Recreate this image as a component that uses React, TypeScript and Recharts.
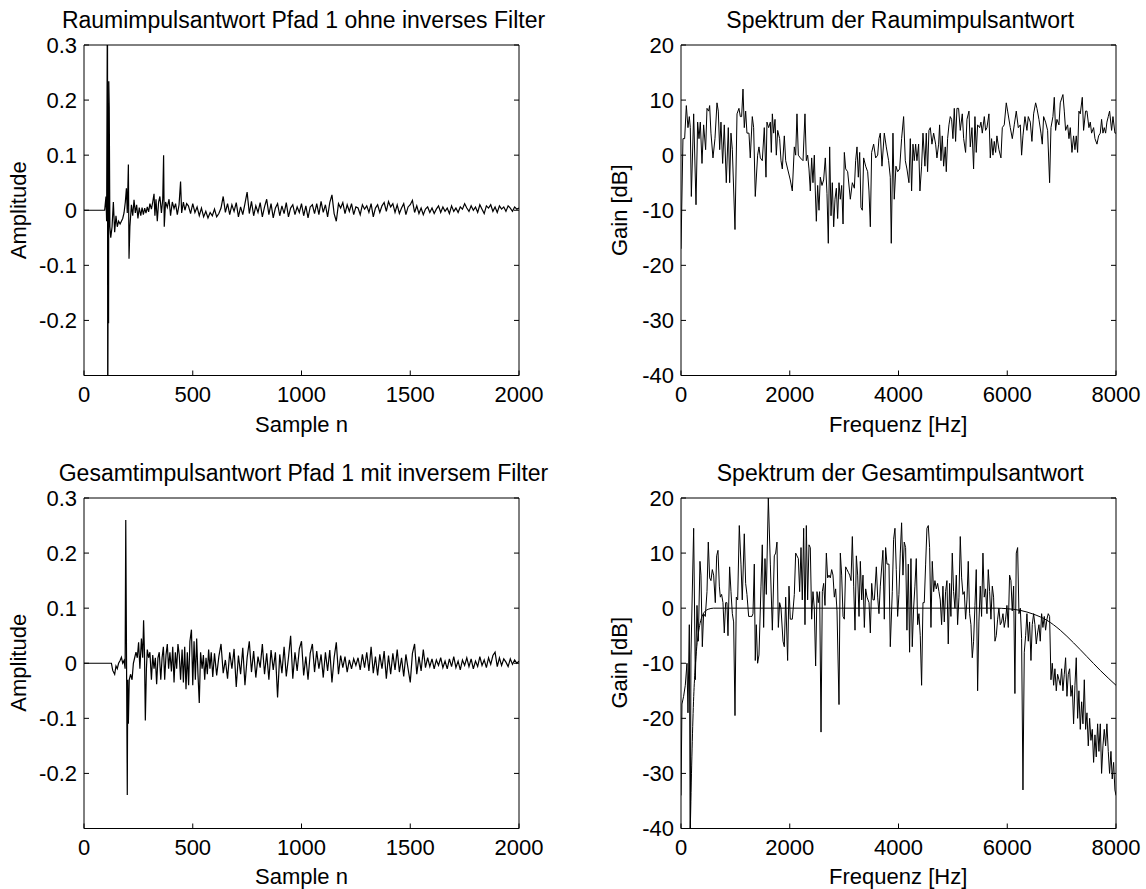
import { Line, LineChart, XAxis, YAxis } from 'recharts';

const FONT = '"Liberation Sans", Arial, Helvetica, sans-serif';

const sampleTicks = [0, 500, 1000, 1500, 2000];
const amplitudeTicks = [-0.2, -0.1, 0, 0.1, 0.2, 0.3];
const freqTicks = [0, 2000, 4000, 6000, 8000];
const gainTicks = [-40, -30, -20, -10, 0, 10, 20];

// room impulse response, onset region read as [sample, amplitude]
const roomHead: [number, number][] = [
  [0, 0], [95, 0], [101, 0.025], [104, -0.02], [108, 0.45], [109, -0.45], [112, 0.05], [113, -0.205],
  [114, 0.234], [116, 0.188], [119, -0.03], [123, -0.05], [129, -0.03], [135, 0.015], [141, -0.04],
  [147, -0.01], [153, -0.03], [159, -0.02], [166, -0.025], [172, -0.02], [178, -0.015], [184, -0.005],
  [190, 0.015], [195, 0.04], [199, -0.005], [204, 0.083], [207, -0.088], [211, -0.03], [218, 0.01],
  [224, -0.01], [230, 0.019], [236, -0.005], [242, 0.01], [248, -0.015], [254, 0.005], [261, -0.01],
  [267, 0.005], [273, -0.008], [279, 0.004], [285, -0.005], [291, 0.006], [297, -0.003], [303, 0.012],
  [310, 0.002], [316, 0.015], [322, 0.03], [326, -0.01], [331, 0.02], [337, -0.02], [343, 0.015],
  [349, 0.025], [356, -0.005], [362, 0.02], [366, 0.1], [369, -0.03], [375, 0.015], [383, 0.005],
  [391, 0.02], [398, -0.01], [406, 0.015], [414, 0.003], [421, 0.012], [429, -0.008], [437, 0.01],
  [444, 0.052], [449, -0.005], [457, 0.015], [464, 0], [472, 0.012],
];
const roomTailStart = 480;
const tailStep = 10;
const roomTail = [
  0.008, -0.006, 0.012, -0.004, 0.006, -0.01, 0.004, -0.012, -0.002, -0.014, -0.004, -0.01, 0.002, -0.012,
  -0.006, 0.004, 0.025, -0.004, 0.012, -0.008, 0.01, -0.002, 0.014, -0.012, 0.006, -0.008, 0.012, 0.033,
  -0.006, 0.016, -0.01, 0.008, -0.004, 0.014, -0.012, 0.006, 0.02, -0.008, 0.012, -0.014, 0.004, 0.012,
  -0.01, 0.008, -0.006, 0.014, -0.012, 0.004, 0.01, -0.008, 0.006, -0.004, 0.012, -0.01, 0.008, -0.014,
  0.006, 0.01, -0.006, 0.012, -0.008, 0.016, -0.004, 0.01, -0.012, 0.014, 0.028, -0.006, -0.02, 0.012,
  0.004, 0.014, -0.006, 0.01, -0.002, 0.012, -0.008, 0.006, 0.004, -0.008, 0.01, 0.002, 0.008, -0.004,
  0.012, -0.012, 0.004, 0.01, -0.004, 0.008, 0.014, -0.002, 0.016, 0.006, 0.012, -0.004, 0.01, -0.006,
  0.004, 0.012, -0.008, 0.006, 0.01, 0.018, -0.004, 0.008, -0.006, 0.004, -0.008, 0.002, 0.006, -0.004,
  0.004, -0.006, 0.002, 0.008, -0.004, 0.006, -0.002, 0.004, -0.006, 0.008, -0.002, 0.004, -0.004, 0.006,
  0.002, 0.012, 0.004, -0.002, 0.008, 0, 0.006, -0.004, 0.01, 0.002, -0.006, 0.008, 0.004, 0.01, -0.002,
  0.006, -0.004, 0.008, 0.002, 0.006, -0.002, 0.008, 0.004, -0.002, 0.006, 0.002, 0.004,
];

// spectrum of the room impulse response, [Hz, dB]
const roomSpectrum: [number, number][] = [
  [0, -17], [36, 3], [67, 3], [98, 9], [128, 5], [153, 7], [171, 5], [190, -7.5], [233, 7.5], [276, -9],
  [306, 6], [331, 3], [355, 6], [386, -1.5], [416, 5.5], [453, 1], [478, 8.5], [508, 8], [527, 9], [551, 4],
  [588, -0.5], [625, 3], [662, 9.5], [686, 8], [711, 1], [735, 6], [766, -1.5], [796, 5.5], [833, -5],
  [870, 5], [895, -5], [919, 4], [944, 1], [993, -13.5], [1030, 7.5], [1066, 8.5], [1091, 7], [1115, 7],
  [1140, 12], [1164, 5], [1189, 8], [1213, 4], [1250, 4], [1274, -0.5], [1311, 7], [1336, 5], [1366, -7.5],
  [1409, 0], [1434, 1.5], [1459, -0.5], [1495, -1], [1532, 5], [1563, -4], [1581, 6], [1612, 5], [1643, 6],
  [1661, 0.5], [1680, 7.5], [1704, 4], [1729, 6.5], [1753, 0], [1778, 4.5], [1814, 3], [1839, -1],
  [1863, -2.5], [1900, 3.5], [1925, -1], [1961, -2.5], [2010, -4.5], [2047, -6.5], [2084, 1.5], [2109, 0],
  [2133, 7.5], [2158, 0], [2195, -0.5], [2244, -1], [2280, 7.5], [2305, -1], [2329, 0], [2354, -2.5],
  [2378, -6.5], [2403, -0.5], [2427, -5], [2452, 0], [2470, -6.5], [2489, -12], [2513, -5.5], [2538, -10],
  [2562, -4], [2593, -5.5], [2623, -4.5], [2654, -0.5], [2685, -7], [2709, -16], [2734, 1.5], [2759, -11],
  [2783, -5], [2808, -13], [2832, -8], [2857, -6], [2881, -11.5], [2906, -5], [2930, -8], [2955, -5.5],
  [2980, -12.5], [3004, 0.5], [3029, -2.5], [3065, -3], [3114, -8], [3151, -5], [3188, -6], [3212, -1],
  [3237, 1.5], [3261, -4], [3286, 0.5], [3310, -9.5], [3335, -10], [3359, -0.5], [3396, -2], [3433, -3],
  [3457, -6.5], [3482, -13], [3506, 0.5], [3543, 2], [3580, -0.5], [3617, 0], [3641, 3],
  [3665, 4], [3696, -2], [3739, 4], [3775, 1.5], [3818, -1], [3849, -4], [3867, -16], [3898, 4], [3922, -8],
  [3953, -2], [3984, -3], [4021, -2.5], [4057, 3], [4094, 7], [4125, -1], [4155, -2.5], [4192, -5],
  [4217, 3], [4241, -6.5], [4266, 2], [4290, -1], [4315, 2], [4339, -1], [4370, 2], [4394, -6.5],
  [4425, -2], [4450, 4], [4486, -2], [4511, 4], [4535, -3], [4560, 4.5], [4585, 5], [4615, 2], [4646, 4],
  [4683, 2], [4707, -0.5], [4738, 2], [4756, 5.5], [4781, -1], [4805, 3.5], [4830, -2], [4860, 1.5],
  [4879, -3], [4903, 3], [4928, 5.5], [4952, 7], [4977, 6.5], [5001, 3], [5026, 8.5], [5050, 2.5],
  [5075, 8.5], [5105, 8.5], [5136, 4.5], [5173, 7.5], [5198, 3], [5234, 0.5], [5259, 6.5], [5296, 8],
  [5320, 1.5], [5351, 5], [5381, -2.5], [5406, 7], [5430, 0.5], [5455, 5.5], [5492, 5], [5516, 6],
  [5541, 4], [5578, 7], [5602, 4.5], [5627, 5], [5663, 7.5], [5688, -0.5], [5712, 3], [5737, 0],
  [5761, 2.5], [5786, 0.5], [5810, 3.5], [5847, 1], [5884, -0.5], [5909, 5], [5945, 5.5], [5982, 9.5],
  [6007, 8], [6056, 5], [6093, 3], [6129, 5.5], [6166, 8], [6203, 5], [6240, 5.5], [6264, 0], [6289, 3.5],
  [6325, 7], [6362, 4.5], [6387, 7], [6424, 6], [6454, 2.5], [6485, 7.5], [6522, 9.5], [6546, 8.5],
  [6583, 6.5], [6620, 4], [6644, 2], [6669, 7], [6705, 6], [6742, 4.5], [6779, -5], [6804, 5], [6840, 7],
  [6865, 10.5], [6889, 4.5], [6914, 6.5], [6951, 5.5], [6975, 9.5], [7024, 11], [7049, 8], [7073, 4.5],
  [7110, 5.5], [7135, 3], [7159, 5], [7190, 0.5], [7220, 3.5], [7245, 1], [7269, 3.5], [7294, 0.5],
  [7318, 8], [7343, 7.5], [7380, 10.5], [7404, 4.5], [7441, 8], [7466, 8], [7502, 5], [7527, 6],
  [7551, 4], [7588, 5], [7613, 3], [7650, 2], [7680, 3.5], [7711, 4], [7735, 6.5], [7760, 4], [7784, 5],
  [7809, 4], [7833, 6], [7858, 7], [7882, 8], [7919, 4.5], [7944, 7], [7981, 4], [8000, 4],
];

// total impulse response with inverse filter, onset region as [sample, amplitude]
const totalHead: [number, number][] = [
  [0, 0], [126, 0], [132, -0.013], [141, -0.02], [147, -0.005], [153, -0.01], [159, 0], [166, 0.005],
  [172, 0.011], [178, 0], [184, 0.005], [189, -0.01], [192, 0.26], [199, -0.239], [201, -0.03],
  [204, -0.11], [208, -0.03], [214, -0.02], [221, -0.03], [227, 0], [233, 0.01], [239, 0.02], [245, 0.01],
  [251, 0.038], [257, -0.01], [264, 0.045], [270, 0.01], [274, 0.078], [278, 0.02], [282, -0.104],
  [287, -0.01], [291, 0.025], [297, 0.01], [303, 0.02], [310, -0.03], [316, 0.015], [322, -0.01],
  [328, 0.01], [334, -0.038], [340, 0.01], [346, 0.02], [353, -0.03], [359, 0.01], [365, 0.03],
  [371, -0.03], [377, 0.015], [383, 0.035], [389, -0.01], [395, 0.02], [402, -0.015], [408, 0.03],
  [414, -0.035], [420, 0.02], [426, -0.01], [432, 0.035], [438, 0.015], [444, -0.03], [451, 0.025],
  [457, -0.035], [463, 0.03], [469, -0.047], [475, 0.02], [481, -0.04], [487, 0.04], [494, 0.061],
  [500, -0.04], [506, 0.04], [512, -0.03], [518, 0.045], [524, -0.02], [530, -0.072], [536, 0.02],
  [543, -0.01], [549, 0.015], [555, -0.03], [561, 0.01], [567, -0.02], [573, 0.025], [579, -0.01],
  [585, 0.02], [592, -0.025],
];
const totalTailStart = 600;
const totalTail = [
  0.018, -0.022, 0.012, 0.035, -0.018, 0.006, -0.028, 0.02, -0.01, 0.026, -0.043, 0.014, -0.02, 0.028,
  -0.04, 0.01, 0.04, -0.016, 0.022, -0.026, 0.012, -0.008, 0.035, -0.02, 0.018, -0.03, 0.024, -0.012,
  0.02, -0.062, 0.016, -0.018, 0.03, -0.024, 0.01, 0.05, -0.028, 0.02, -0.014, 0.026, 0.04, -0.022, 0.012,
  -0.03, 0.018, 0.035, -0.016, 0.022, -0.01, 0.016, -0.026, 0.02, -0.014, 0.024, -0.035, 0.01, 0.038,
  -0.02, 0.014, -0.008, 0.012, -0.016, 0.006, -0.01, 0.008, -0.004, 0.01, -0.012, 0.016, -0.008, 0.02,
  -0.014, 0.03, -0.018, 0.012, -0.022, 0.016, -0.01, 0.022, -0.028, 0.014, -0.02, 0.018, -0.012, 0.025,
  -0.016, 0.01, -0.024, 0.016, -0.01, -0.035, 0.018, 0.035, -0.02, 0.012, -0.014, 0.025, -0.008, 0.01,
  -0.006, 0.008, -0.01, 0.006, -0.004, 0.01, -0.008, 0.004, -0.01, 0.008, -0.006, 0.012, -0.008, 0.004,
  -0.012, 0.006, -0.004, 0.01, -0.006, 0.008, -0.01, 0.004, -0.006, 0.012, -0.004, 0.006, -0.008, 0.01,
  -0.002, 0.014, 0.02, -0.006, 0.01, -0.004, 0.008, 0.002, -0.006, 0.008, -0.002, 0.006, 0, 0.004,
];

// spectrum of the total impulse response, [Hz, dB]
const totalSpectrum: [number, number][] = [
  [0, -34], [18, -17.4], [48, -16], [79, -14], [110, -10], [128, -19], [153, -3], [170, -45], [183, -8.5],
  [233, 14.5], [263, -13], [294, 0.5], [318, -6], [349, 8.5], [367, 6], [392, -7], [416, -1], [447, -1.5],
  [478, 3], [502, 12], [527, 5.5], [551, 5], [576, 7], [600, 6], [631, 1], [656, 9.5], [680, 10.5],
  [705, 4], [723, 2], [747, 2.5], [772, 1], [796, -4.5], [821, 1], [845, 1], [864, -5], [894, 7.5],
  [919, 3], [944, -1], [968, -2.5], [993, -19.5], [1017, 2], [1042, 1.5], [1072, 15], [1103, 8],
  [1127, 1.5], [1164, 13.5], [1189, 4.5], [1213, 2.5], [1244, -1.5], [1274, -1.5], [1305, -1.5],
  [1324, -1], [1348, 8], [1366, -9.5], [1385, -3], [1409, -10], [1434, -8.5], [1471, 4], [1495, 11.5],
  [1520, -3.5], [1544, 9], [1569, 2.5], [1606, 20], [1643, 8], [1680, -4], [1716, 9.5], [1741, 10],
  [1765, 12], [1790, -3.5], [1814, 1], [1839, 0], [1876, -6], [1900, -7], [1925, 2], [1961, -9.5],
  [1986, 4], [2010, -2], [2047, -2], [2084, 2.5], [2109, 10], [2133, 9.5], [2158, 9], [2182, 3],
  [2207, 11], [2231, 1.5], [2256, 14.5], [2280, -3], [2305, 15], [2329, 1.5], [2354, 11.5], [2378, 11],
  [2403, -2], [2427, 3], [2452, 0], [2476, -10.5], [2501, 3], [2525, 1], [2550, 3], [2575, -22.5],
  [2599, 3], [2624, 4.5], [2648, 0.5], [2673, 10], [2697, 5.5], [2722, 6], [2746, 5.5], [2771, 7],
  [2795, 6], [2820, 2], [2844, 3.5], [2869, -0.5], [2906, -17.5], [2930, 10], [2955, 6], [2980, -1.5],
  [3004, -2], [3029, 7.5], [3053, 7], [3078, 6.5], [3102, 6], [3127, 5], [3151, 13], [3176, 4],
  [3200, -4], [3225, 9.5], [3249, 6], [3274, -1.5], [3298, 8.5], [3323, 1.5], [3347, 6], [3372, -3.5],
  [3396, 3.5], [3421, 2], [3458, 1], [3482, -4.5], [3507, 4.5], [3531, 1.5], [3556, 1.5], [3592, 7.5],
  [3617, 2], [3641, -1], [3665, 4], [3714, 10.5], [3739, -2], [3763, 11], [3788, 8], [3825, 8],
  [3849, -7], [3886, 3], [3910, 12.5], [3935, 14.5], [3959, 7], [3984, -1.5], [4008, 2.5], [4033, 10],
  [4057, 15.5], [4082, 6], [4106, 12], [4131, 11], [4155, -4], [4180, 8], [4204, -8], [4229, 9],
  [4253, -7], [4278, 0], [4302, 4], [4327, 9], [4352, -3], [4376, -1], [4400, -5], [4425, -14], [4450, 1],
  [4474, 1], [4499, 8], [4523, 14.5], [4548, 15], [4572, 11], [4597, -3.5], [4621, 8.5], [4646, 3],
  [4670, 5], [4695, 3.5], [4719, 4.5], [4744, 3], [4768, 1.5], [4793, -3], [4817, 4], [4842, -2.5],
  [4866, 3], [4891, 5], [4915, -6.5], [4940, 4.5], [4964, -1.5], [4989, 10], [5013, 3], [5038, 0],
  [5063, 6], [5087, -3], [5112, 2], [5136, 13], [5161, 5.5], [5185, 2.5], [5210, 3], [5234, -2],
  [5259, 1.5], [5283, 8.5], [5308, -1], [5332, -3], [5357, -9], [5381, -6], [5406, 0.5], [5430, 7],
  [5455, -15], [5479, -2.5], [5504, 4], [5528, -1.5], [5553, 10], [5577, 2], [5602, 3.5], [5627, -1],
  [5651, 7], [5676, 3], [5700, -2], [5725, 4], [5749, 2], [5774, -6], [5798, -5], [5823, -2], [5847, 0],
  [5872, -3], [5896, -2.5], [5921, -1], [5945, -3.5], [5970, -2], [5994, 0.5], [6019, -3.5], [6043, 6],
  [6068, 5], [6092, -0.5], [6117, 4], [6141, -15.5], [6166, 10], [6191, 11], [6215, -1], [6240, 0],
  [6264, -5.5], [6289, -33], [6313, -8], [6338, -5], [6362, -1], [6387, -6], [6411, -2.5], [6436, -9.5],
  [6460, -3], [6485, -1], [6509, -3], [6534, -6.5], [6558, -4.5], [6583, -3], [6607, -6], [6632, -1],
  [6656, -3.5], [6681, -1.5], [6705, -4], [6730, -2], [6754, -1], [6779, -1.5], [6804, -13], [6828, -10],
  [6853, -14], [6877, -11], [6902, -15], [6926, -12], [6951, -13], [6975, -14], [7000, -11], [7024, -15],
  [7049, -12], [7073, -9], [7098, -16], [7122, -12], [7147, -11], [7171, -16], [7196, -14], [7220, -21],
  [7245, -14], [7269, -9], [7294, -20], [7318, -15], [7343, -22], [7368, -17], [7392, -21], [7417, -13],
  [7441, -22], [7466, -19], [7490, -25], [7515, -20], [7539, -24], [7564, -22], [7588, -28], [7613, -23],
  [7637, -27], [7662, -21], [7686, -26], [7711, -21], [7735, -30], [7760, -25], [7784, -22], [7809, -25],
  [7833, -21], [7858, -26], [7882, -30], [7907, -26], [7931, -31], [7956, -28], [7980, -33], [8000, -34],
];

// magnitude response of the inverse filter, [Hz, dB]
const filterResponse: [number, number][] = [
  [0, -100], [150, -48], [171, -40], [200, -27], [230, -17], [260, -11], [290, -7], [320, -4.5],
  [350, -2.8], [400, -1.2], [450, -0.5], [500, -0.2], [600, 0], [5800, 0], [6000, -0.1], [6240, -0.4],
  [6485, -1.1], [6730, -2.2], [6975, -4], [7220, -6.3], [7466, -8.8], [7711, -11.3], [8000, -14],
];

const toPoints = (pairs: [number, number][]) => pairs.map(([x, y]) => ({ x, y }));
const withTail = (head: [number, number][], start: number, tail: number[]) => [
  ...toPoints(head),
  ...tail.map((y, i) => ({ x: start + i * tailStep, y })),
];

const roomData = withTail(roomHead, roomTailStart, roomTail);
const totalData = withTail(totalHead, totalTailStart, totalTail);

type Box = { x: number; y: number; w: number; h: number };
type Series = { data: { x: number; y: number }[]; curve: 'linear' | 'monotone'; width: number };

const PAD_L = 84;
const PAD_T = 45;
const PAD_R = 30;
const PAD_B = 45;

const tickStyle = { fill: '#000', fontSize: 22, fontFamily: FONT };
const blank = () => '';

function Panel({
  box,
  xDomain,
  xTicks,
  yDomain,
  yTicks,
  series,
}: {
  box: Box;
  xDomain: [number, number];
  xTicks: number[];
  yDomain: [number, number];
  yTicks: number[];
  series: Series[];
}) {
  return (
    <div style={{ position: 'absolute', left: box.x - PAD_L, top: box.y - PAD_T }}>
      <LineChart
        width={box.w + PAD_L + PAD_R}
        height={box.h + PAD_T + PAD_B}
        margin={{ top: PAD_T - 1, right: PAD_R - 1, bottom: PAD_B - 40, left: 0 }}
        style={{ overflow: 'visible' }}
      >
        <XAxis
          xAxisId="b"
          dataKey="x"
          type="number"
          domain={xDomain}
          ticks={xTicks}
          interval={0}
          allowDataOverflow
          height={40}
          tickSize={-5}
          tickMargin={16}
          stroke="#000"
          tick={tickStyle}
        />
        <XAxis
          xAxisId="t"
          orientation="top"
          type="number"
          domain={xDomain}
          ticks={xTicks}
          interval={0}
          allowDataOverflow
          height={1}
          tickSize={-5}
          tickFormatter={blank}
          stroke="#000"
        />
        <YAxis
          yAxisId="l"
          type="number"
          domain={yDomain}
          ticks={yTicks}
          interval={0}
          allowDataOverflow
          width={PAD_L}
          tickSize={-5}
          tickMargin={12}
          stroke="#000"
          tick={tickStyle}
        />
        <YAxis
          yAxisId="r"
          orientation="right"
          type="number"
          domain={yDomain}
          ticks={yTicks}
          interval={0}
          allowDataOverflow
          width={1}
          tickSize={-5}
          tickFormatter={blank}
          stroke="#000"
        />
        {series.map((s, i) => (
          <Line
            key={i}
            xAxisId="b"
            yAxisId="l"
            data={s.data}
            dataKey="y"
            type={s.curve}
            stroke="#000"
            strokeWidth={s.width}
            dot={false}
            activeDot={false}
            isAnimationActive={false}
          />
        ))}
      </LineChart>
    </div>
  );
}

const topLeft: Box = { x: 84, y: 45, w: 435, h: 330.5 };
const topRight: Box = { x: 680.7, y: 45, w: 435, h: 330.5 };
const bottomLeft: Box = { x: 84, y: 497.5, w: 435, h: 330.5 };
const bottomRight: Box = { x: 680.7, y: 497.5, w: 435, h: 330.5 };

function Labels({ box, title, xLabel, yLabel, yLabelX }: { box: Box; title: string; xLabel: string; yLabel: string; yLabelX: number }) {
  const cx = box.x + box.w / 2;
  const cy = box.y + box.h / 2;
  return (
    <g fontFamily={FONT} fontSize={22} fill="#000" textAnchor="middle">
      <text x={cx + 2} y={box.y - 17} fontSize={23}>{title}</text>
      <text x={cx} y={box.y + box.h + 56}>{xLabel}</text>
      <text transform={`translate(${yLabelX}, ${cy}) rotate(-90)`}>{yLabel}</text>
    </g>
  );
}

export default function App() {
  return (
    <div style={{ position: 'absolute', left: 0, top: 0, width: 1146, height: 889, background: '#fff' }}>
      <svg width={1146} height={889} style={{ position: 'absolute', left: 0, top: 0 }}>
        <Labels box={topLeft} title="Raumimpulsantwort Pfad 1 ohne inverses Filter" xLabel="Sample n" yLabel="Amplitude" yLabelX={26} />
        <Labels box={topRight} title="Spektrum der Raumimpulsantwort" xLabel="Frequenz [Hz]" yLabel="Gain [dB]" yLabelX={627} />
        <Labels box={bottomLeft} title="Gesamtimpulsantwort Pfad 1 mit inversem Filter" xLabel="Sample n" yLabel="Amplitude" yLabelX={26} />
        <Labels box={bottomRight} title="Spektrum der Gesamtimpulsantwort" xLabel="Frequenz [Hz]" yLabel="Gain [dB]" yLabelX={627} />
      </svg>
      <Panel box={topLeft} xDomain={[0, 2000]} xTicks={sampleTicks} yDomain={[-0.3, 0.3]} yTicks={amplitudeTicks} series={[{ data: roomData, curve: 'linear', width: 1.2 }]} />
      <Panel box={topRight} xDomain={[0, 8000]} xTicks={freqTicks} yDomain={[-40, 20]} yTicks={gainTicks} series={[{ data: toPoints(roomSpectrum), curve: 'linear', width: 1 }]} />
      <Panel box={bottomLeft} xDomain={[0, 2000]} xTicks={sampleTicks} yDomain={[-0.3, 0.3]} yTicks={amplitudeTicks} series={[{ data: totalData, curve: 'linear', width: 1.2 }]} />
      <Panel
        box={bottomRight}
        xDomain={[0, 8000]}
        xTicks={freqTicks}
        yDomain={[-40, 20]}
        yTicks={gainTicks}
        series={[
          { data: toPoints(totalSpectrum), curve: 'linear', width: 1 },
          { data: toPoints(filterResponse), curve: 'monotone', width: 1 },
        ]}
      />
    </div>
  );
}
